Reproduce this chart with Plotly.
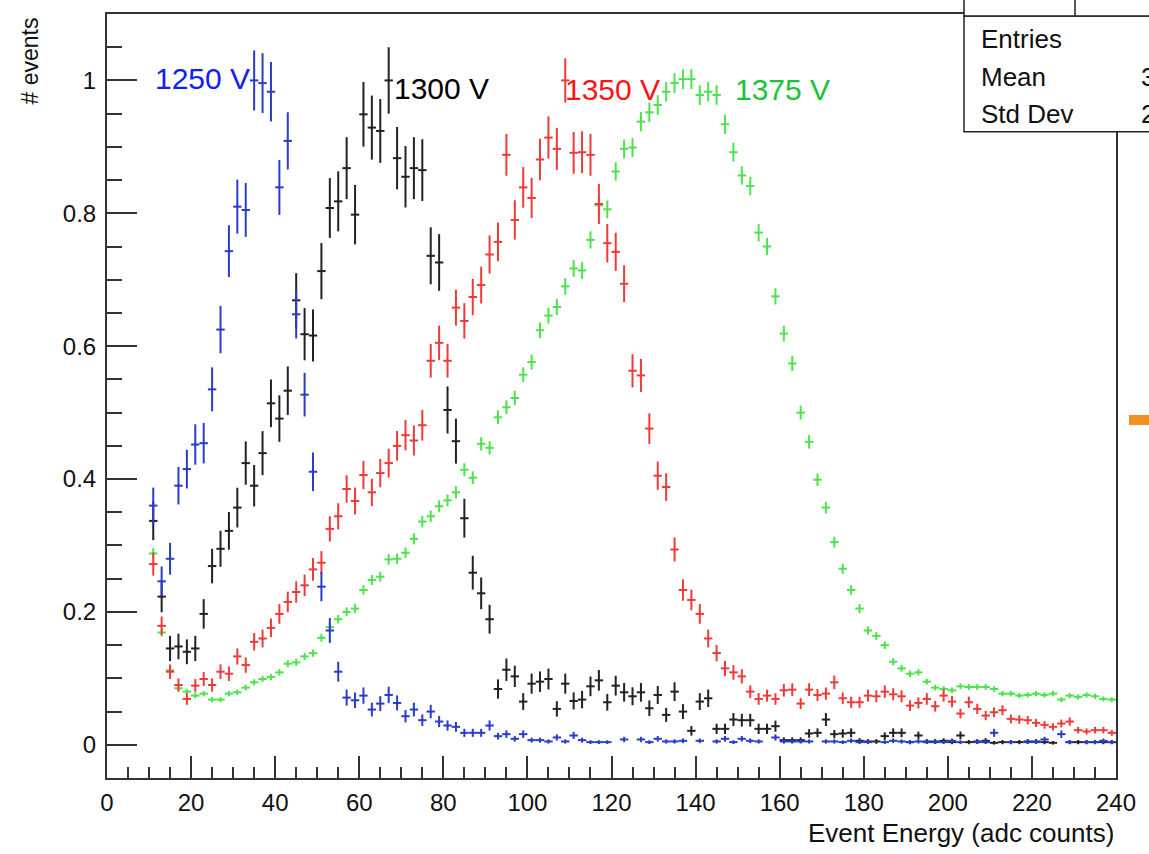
import plotly.graph_objects as go

# ---- histogram bins (adc counts), bin width 2 ----
bin_centers = list(range(11, 241, 2))
bin_half_width = 1

# normalised bin contents (peak = 1) for each PMT high voltage
y_1250 = [
    0.360, 0.246, 0.280, 0.390, 0.415, 0.452, 0.454, 0.535, 0.625, 0.743,
    0.810, 0.805, 1.000, 0.996, 0.983, 0.839, 0.909, 0.648, 0.527, 0.411,
    0.238, 0.172, 0.110, 0.071, 0.067, 0.074, 0.053, 0.062, 0.075, 0.063,
    0.043, 0.053, 0.037, 0.050, 0.035, 0.029, 0.027, 0.018, 0.018, 0.018,
    0.029, 0.013, 0.016, 0.009, 0.016, 0.007, 0.007, 0.005, 0.011, 0.005,
    0.014, 0.007, 0.004, 0.004, 0.004, None, 0.008, None, 0.008, 0.004,
    0.009, 0.005, 0.005, 0.006, None, 0.006, None, 0.005, 0.009, 0.004,
    0.009, 0.006, 0.005, None, 0.011, 0.005, 0.005, 0.005, 0.005, None,
    0.005, 0.005, 0.004, 0.006, 0.004, 0.004, None, 0.004, 0.006, 0.005,
    0.004, 0.005, 0.004, 0.004, 0.004, 0.006, 0.004, None, 0.004, 0.004,
    0.018, None, 0.004, None, 0.004, 0.004, 0.008, None, 0.016, 0.004,
    None, 0.004, 0.004, 0.006, 0.004,
]

y_1300 = [
    0.337, 0.223, 0.145, 0.148, 0.140, 0.145, 0.197, 0.269, 0.295, 0.322,
    0.357, 0.424, 0.390, 0.439, 0.514, 0.491, 0.533, 0.669, 0.618, 0.616,
    0.713, 0.808, 0.818, 0.868, 0.798, 0.949, 0.929, 0.924, 1.000, 0.883,
    0.855, 0.868, 0.865, 0.736, 0.726, 0.504, 0.457, 0.341, 0.259, 0.228,
    0.189, 0.084, 0.113, 0.103, 0.065, 0.092, 0.095, 0.099, 0.054, 0.092,
    0.066, 0.068, 0.088, 0.097, 0.064, 0.089, 0.079, 0.073, 0.079, 0.055,
    0.075, 0.045, 0.080, 0.050, 0.021, 0.065, 0.070, 0.024, 0.024, 0.038,
    0.037, 0.037, 0.024, 0.024, 0.028, 0.007, 0.007, 0.007, 0.017, 0.018,
    0.038, 0.016, 0.017, 0.018, 0.006, 0.005, 0.005, 0.013, 0.018, 0.018,
    0.004, 0.014, 0.005, 0.005, 0.006, 0.004, 0.014, 0.004, 0.005, 0.006,
    0.003, 0.004, 0.004, 0.004, 0.005, 0.005, 0.004, 0.003, None, 0.004,
    0.004, 0.004, 0.004, 0.004, 0.004,
]

y_1350 = [
    0.272, 0.179, 0.110, 0.090, 0.069, 0.089, 0.099, 0.090, 0.110, 0.107,
    0.133, 0.120, 0.155, 0.160, 0.176, 0.197, 0.215, 0.230, 0.240, 0.264,
    0.274, 0.325, 0.344, 0.385, 0.367, 0.406, 0.380, 0.409, 0.424, 0.450,
    0.466, 0.458, 0.481, 0.578, 0.605, 0.578, 0.658, 0.638, 0.674, 0.692,
    0.738, 0.757, 0.888, 0.790, 0.839, 0.823, 0.881, 0.914, 0.897, 1.000,
    0.891, 0.892, 0.888, 0.814, 0.755, 0.742, 0.694, 0.563, 0.556, 0.476,
    0.405, 0.388, 0.294, 0.233, 0.218, 0.197, 0.160, 0.138, 0.115, 0.109,
    0.103, 0.080, 0.069, 0.074, 0.069, 0.082, 0.083, 0.062, 0.083, 0.075,
    0.077, 0.094, 0.070, 0.064, 0.064, 0.074, 0.073, 0.080, 0.076, 0.073,
    0.059, 0.063, 0.069, 0.058, 0.074, 0.065, 0.047, 0.064, 0.054, 0.044,
    0.049, 0.052, 0.039, 0.038, 0.037, 0.033, 0.030, 0.027, 0.032, 0.035,
    0.022, 0.020, 0.022, 0.022, 0.018,
]

y_1375 = [
    0.288, 0.169, 0.112, 0.085, 0.080, 0.074, 0.077, 0.068, 0.068, 0.077,
    0.079, 0.086, 0.094, 0.099, 0.102, 0.109, 0.122, 0.124, 0.133, 0.138,
    0.161, 0.177, 0.189, 0.200, 0.205, 0.233, 0.248, 0.253, 0.279, 0.280,
    0.289, 0.310, 0.336, 0.344, 0.359, 0.368, 0.380, 0.414, 0.402, 0.453,
    0.447, 0.493, 0.508, 0.522, 0.557, 0.576, 0.624, 0.646, 0.659, 0.690,
    0.717, 0.714, 0.760, 0.812, 0.806, 0.863, 0.897, 0.899, 0.938, 0.952,
    0.963, 0.983, 0.996, 1.002, 1.002, 0.978, 0.983, 0.978, 0.934, 0.892,
    0.857, 0.841, 0.771, 0.750, 0.675, 0.619, 0.574, 0.500, 0.456, 0.399,
    0.357, 0.305, 0.265, 0.233, 0.205, 0.172, 0.164, 0.150, 0.125, 0.115,
    0.107, 0.109, 0.095, 0.086, 0.084, 0.082, 0.088, 0.087, 0.087, 0.087,
    0.084, 0.077, 0.077, 0.074, 0.075, 0.077, 0.075, 0.077, 0.068, 0.074,
    0.072, 0.075, 0.073, 0.069, 0.068,
]

# entries in the peak bin of each histogram (sets the Poisson error size)
peak_counts = {"1250 V": 490, "1300 V": 400, "1350 V": 900, "1375 V": 4500}

series = [
    # name, values, marker colour, label colour, label position (px)
    ("1375 V", y_1375, "#4ee34e", "#1cc23c", (733, 88)),
    ("1350 V", y_1350, "#f03a3a", "#ff1414", (563, 88)),
    ("1300 V", y_1300, "#222222", "#000000", (392, 87)),
    ("1250 V", y_1250, "#2a3cc8", "#1020f0", (153, 77)),
]

W, H = 1149, 854
ML, MR, MT, MB = 107, 33, 12, 76
PW, PH = W - ML - MR, H - MT - MB


def px(x):
    return (x - ML) / PW


def py(y):
    return (H - MB - y) / PH


fig = go.Figure()

for name, vals, col, _, _ in series:
    n = peak_counts[name]
    errs = [None if v is None else (v / n) ** 0.5 for v in vals]
    fig.add_trace(go.Scatter(
        x=bin_centers, y=vals, mode="markers", name=name,
        marker=dict(size=2, color=col),
        error_x=dict(type="constant", value=bin_half_width, color=col,
                     thickness=2, width=0),
        error_y=dict(type="data", array=errs, color=col, thickness=2, width=0),
        showlegend=False,
    ))

font_family = "Liberation Sans, Arial, Helvetica, sans-serif"
axis_col = "#333333"

fig.update_xaxes(
    range=[0, 240], dtick=20, tick0=0,
    ticks="inside", ticklen=22, tickwidth=2, tickcolor=axis_col,
    minor=dict(ticks="inside", dtick=5, ticklen=11, tickwidth=2, tickcolor=axis_col),
    showline=True, linewidth=2, linecolor=axis_col, mirror=True,
    showgrid=False, zeroline=False,
    tickfont=dict(family=font_family, size=24, color="#111111"),
    ticklabelstandoff=2,
)
fig.update_yaxes(
    range=[-0.05, 1.1], dtick=0.2, tick0=0,
    ticks="inside", ticklen=30, tickwidth=2, tickcolor=axis_col,
    minor=dict(ticks="inside", dtick=0.05, ticklen=15, tickwidth=2, tickcolor=axis_col),
    showline=True, linewidth=2, linecolor=axis_col, mirror=True,
    showgrid=False, zeroline=False,
    tickfont=dict(family=font_family, size=24, color="#111111"),
    ticklabelstandoff=4,
)

annotations = []
for name, _, _, lcol, (lx, ly) in series:
    annotations.append(dict(
        text=name, x=px(lx), y=py(ly), xref="paper", yref="paper",
        xanchor="left", yanchor="middle", showarrow=False,
        font=dict(family=font_family, size=30, color=lcol),
    ))

# axis titles, right/top aligned
annotations.append(dict(
    text="Event Energy (adc counts)", x=px(1116), y=py(833),
    xref="paper", yref="paper", xanchor="right", yanchor="middle",
    showarrow=False, font=dict(family=font_family, size=26, color="#111111"),
))
annotations.append(dict(
    text="# events", x=px(30), y=py(14), xref="paper", yref="paper",
    xanchor="center", yanchor="top", textangle=-90, showarrow=False,
    font=dict(family=font_family, size=23, color="#111111"),
))

# statistics box (values run off the right edge of the canvas)
stats_rows = [("Entries", "", 37), ("Mean", "35.21", 75), ("Std Dev", "27.48", 112)]
for label, value, ry in stats_rows:
    annotations.append(dict(
        text=label, x=px(979), y=py(ry), xref="paper", yref="paper",
        xanchor="left", yanchor="middle", showarrow=False,
        font=dict(family=font_family, size=26, color="#111111"),
    ))
    if value:
        annotations.append(dict(
            text=value, x=px(1139), y=py(ry), xref="paper", yref="paper",
            xanchor="left", yanchor="middle", showarrow=False,
            font=dict(family=font_family, size=26, color="#111111"),
        ))

shapes = [
    # stats box and the title box above it
    dict(type="rect", xref="paper", yref="paper", layer="above",
         x0=px(964), x1=px(1170), y0=py(130), y1=py(14),
         fillcolor="white", line=dict(color="#222222", width=1.5)),
    dict(type="rect", xref="paper", yref="paper", layer="above",
         x0=px(964), x1=px(1170), y0=py(14), y1=py(-10),
         fillcolor="white", line=dict(color="#222222", width=1.5)),
    dict(type="line", xref="paper", yref="paper", layer="above",
         x0=px(1075), x1=px(1075), y0=py(14), y1=py(-10),
         line=dict(color="#222222", width=1.5)),
    # small orange marker at the right margin
    dict(type="rect", xref="paper", yref="paper", layer="above",
         x0=px(1129), x1=px(1160), y0=py(424), y1=py(414),
         fillcolor="#f0901e", line=dict(width=0)),
]

fig.update_layout(
    width=W, height=H,
    margin=dict(l=ML, r=MR, t=MT, b=MB),
    paper_bgcolor="white", plot_bgcolor="white",
    annotations=annotations, shapes=shapes,
    font=dict(family=font_family),
)

fig.write_html("out.html")
